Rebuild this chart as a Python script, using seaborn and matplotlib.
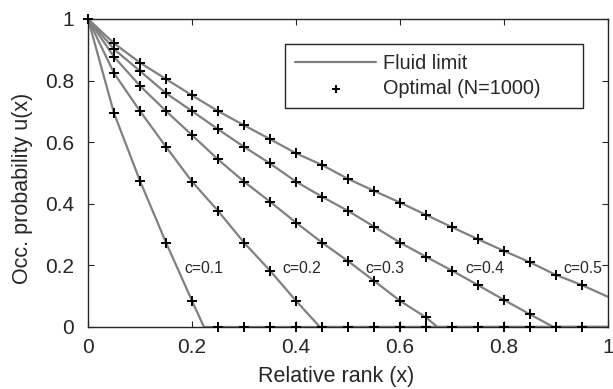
import numpy as np
import pandas as pd
import matplotlib
matplotlib.use("Agg")
import matplotlib.pyplot as plt
from matplotlib.ticker import FormatStrFormatter
import seaborn as sns

# rank positions of the optimal-policy markers
ranks = [0.0, 0.05, 0.1, 0.15, 0.2, 0.25, 0.3, 0.35, 0.4, 0.45,
         0.5, 0.55, 0.6, 0.65, 0.7, 0.75, 0.8, 0.85, 0.9, 0.95]

c_values = [0.1, 0.2, 0.3, 0.4, 0.5]

# occupation probability of the optimal policy (N=1000)
opt_c01 = [1, 0.694, 0.474, 0.274, 0.085, 0, 0, 0, 0, 0,
           0, 0, 0, 0, 0, 0, 0, 0, 0, 0]
opt_c02 = [1, 0.824, 0.701, 0.585, 0.472, 0.377, 0.274, 0.183, 0.085, 0,
           0, 0, 0, 0, 0, 0, 0, 0, 0, 0]
opt_c03 = [1, 0.877, 0.783, 0.701, 0.623, 0.544, 0.472, 0.407, 0.339, 0.274,
           0.214, 0.150, 0.085, 0.031, 0, 0, 0, 0, 0, 0]
opt_c04 = [1, 0.902, 0.831, 0.759, 0.701, 0.642, 0.585, 0.531, 0.472, 0.423,
           0.377, 0.326, 0.274, 0.228, 0.183, 0.136, 0.088, 0.041, 0, 0]
opt_c05 = [1, 0.921, 0.858, 0.805, 0.752, 0.701, 0.655, 0.610, 0.564, 0.526,
           0.481, 0.442, 0.404, 0.364, 0.324, 0.285, 0.247, 0.210, 0.169, 0.136]

# fluid limit: where each curve reaches zero, and its value at x=1
fluid_zero = [0.223, 0.446, 0.672, 0.895, None]
fluid_end = [0, 0, 0, 0, 0.098]

label_x = [0.185, 0.373, 0.534, 0.725, 0.914]
label_y = 0.19

opt_all = [opt_c01, opt_c02, opt_c03, opt_c04, opt_c05]

sns.set_style("ticks")
plt.rcParams['font.family'] = ['Liberation Sans', 'DejaVu Sans']

fig, ax = plt.subplots(figsize=(6.13, 3.89), dpi=100)
fig.subplots_adjust(left=0.1436, right=0.9918, top=0.9512, bottom=0.1594)

gray = '#808080'
for i, c in enumerate(c_values):
    u = opt_all[i]
    # fluid curve: the positive part, then the zero crossing, then flat to x=1
    fx = [x for x, v in zip(ranks, u) if v > 0]
    fy = [v for v in u if v > 0]
    if fluid_zero[i] is not None:
        fx.append(fluid_zero[i])
        fy.append(0)
    fx.append(1.0)
    fy.append(fluid_end[i])
    sns.lineplot(x=fx, y=fy, color=gray, lw=1.6, sort=False, ax=ax,
                 label='Fluid limit' if i == 0 else None)

for i, c in enumerate(c_values):
    sns.scatterplot(x=ranks, y=opt_all[i], marker='+', color='black', s=48,
                    linewidth=1.4, ax=ax, zorder=3, clip_on=False,
                    label='Optimal (N=1000)' if i == 0 else None)
    ax.text(label_x[i], label_y, f'c={c}', fontsize=11.3, va='center', ha='left')

ax.set_xlim(0, 1)
ax.set_ylim(0, 1)
ax.set_xticks(np.arange(0, 1.01, 0.2))
ax.set_yticks(np.arange(0, 1.01, 0.2))
ax.xaxis.set_major_formatter(FormatStrFormatter('%g'))
ax.yaxis.set_major_formatter(FormatStrFormatter('%g'))
ax.tick_params(direction='in', length=4, width=0.8, top=True, right=True,
               labelsize=15, colors='#262626')
ax.tick_params(axis='x', pad=8)
ax.tick_params(axis='y', pad=10)
for sp in ax.spines.values():
    sp.set_visible(True)
    sp.set_color('#262626')
    sp.set_linewidth(1.0)

ax.set_xlabel('Relative rank (x)', fontsize=15.5, color='#262626')
ax.set_ylabel('Occ. probability u(x)', fontsize=15.5, color='#262626')
ax.xaxis.set_label_coords(0.4765, -0.127)
ax.yaxis.set_label_coords(-0.106, 0.451)

leg = ax.legend(loc='upper left', bbox_to_anchor=(0.379, 0.724, 0.573, 0.195),
                mode='expand', borderaxespad=0, fontsize=14.3, handlelength=4.1,
                handletextpad=0.35, fancybox=False, framealpha=1,
                edgecolor='#262626', borderpad=0.5, labelspacing=0.3)
leg.get_frame().set_linewidth(1.0)
leg.legend_handles[1].set_sizes([28])

fig.savefig('out.png', dpi=100, facecolor='white')
